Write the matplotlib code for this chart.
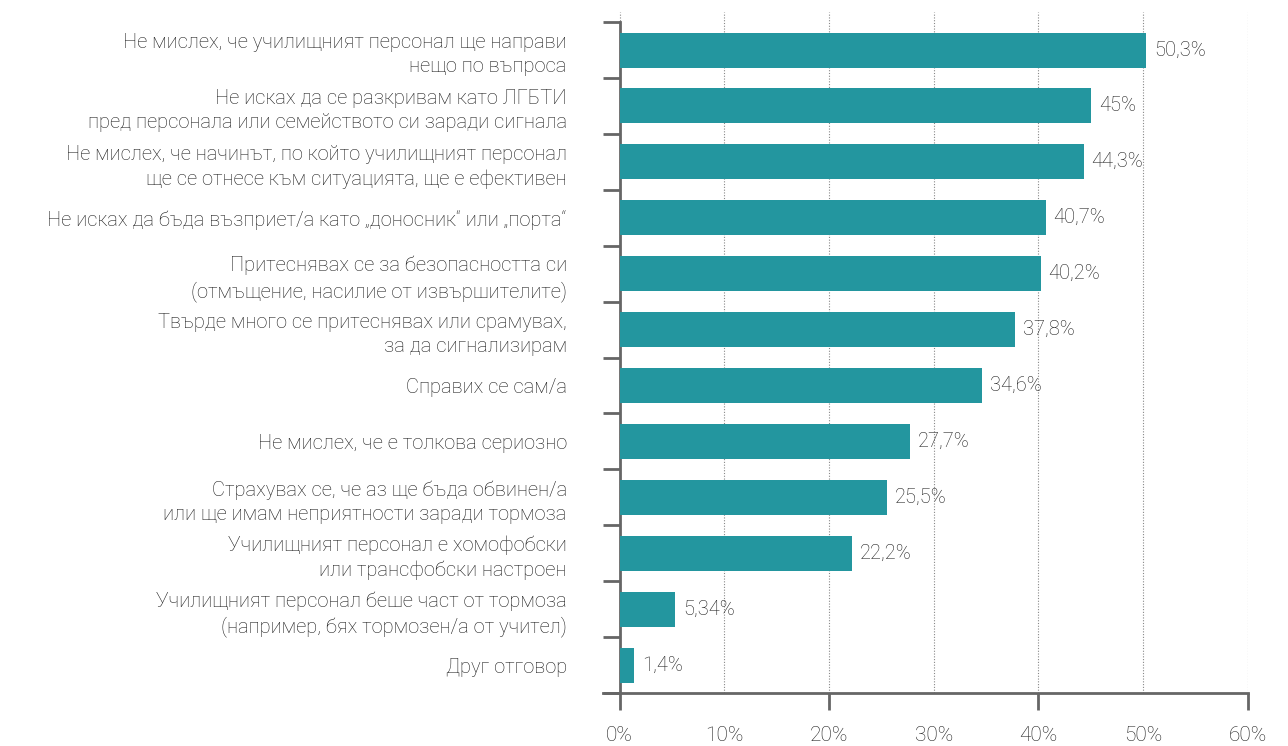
import matplotlib.pyplot as plt
from matplotlib.ticker import FixedLocator

plt.rcParams['font.family'] = ['Roboto', 'DejaVu Sans']
plt.rcParams['font.weight'] = 'light'

причини = [
    "Не мислех, че училищният персонал ще направи\nнещо по въпроса",
    "Не исках да се разкривам като ЛГБТИ\nпред персонала или семейството си заради сигнала",
    "Не мислех, че начинът, по който училищният персонал\nще се отнесе към ситуацията, ще е ефективен",
    "Не исках да бъда възприет/а като „доносник“ или „порта“",
    "Притеснявах се за безопасността си\n(отмъщение, насилие от извършителите)",
    "Твърде много се притеснявах или срамувах,\nза да сигнализирам",
    "Справих се сам/а",
    "Не мислех, че е толкова сериозно",
    "Страхувах се, че аз ще бъда обвинен/а\nили ще имам неприятности заради тормоза",
    "Училищният персонал е хомофобски\nили трансфобски настроен",
    "Училищният персонал беше част от тормоза\n(например, бях тормозен/а от учител)",
    "Друг отговор",
]
проценти = [50.3, 45, 44.3, 40.7, 40.2, 37.8, 34.6, 27.7, 25.5, 22.2, 5.34, 1.4]
x_ticks = [0, 10, 20, 30, 40, 50, 60]
x_tick_labels = ['0%', '10%', '20%', '30%', '40%', '50%', '60%']

цвят = '#23969f'
сиво = '#666666'
текст = '#1e1e1e'

fig = plt.figure(figsize=(12.88, 7.46), dpi=100)
ax = fig.add_axes([0.4682, 0.0710, 0.9689 - 0.4682, 0.9839 - 0.0710])

y = list(range(len(причини)))
ax.barh(y, проценти, height=0.625, color=цвят, zorder=3)
for yi, v in zip(y, проценти):
    ax.text(v + 0.75, yi, '{:g}%'.format(v).replace('.', ','), va='center', ha='left',
            fontsize=14.5, color=текст, zorder=4)

ax.set_xlim(-1.575, 60)
ax.set_ylim(11.5, -0.68)

for s in ['top', 'right']:
    ax.spines[s].set_visible(False)
ax.spines['left'].set_position(('data', 0))
ax.spines['left'].set_bounds(-0.5, 11.5)
for s in ['left', 'bottom']:
    ax.spines[s].set_color(сиво)
    ax.spines[s].set_linewidth(2)

ax.set_yticks(y)
ax.set_yticklabels(причини, fontsize=14.5, color=текст, ha='right', linespacing=1.35)
ax.yaxis.set_minor_locator(FixedLocator([i - 0.5 for i in range(len(причини) + 1)]))
ax.tick_params(axis='y', which='major', length=0, pad=38)
ax.tick_params(axis='y', which='minor', length=12, width=2, color=сиво)

ax.xaxis.remove_overlapping_locs = False
ax.set_xticks(x_ticks)
ax.set_xticklabels(x_tick_labels, fontsize=15, color=текст)
ax.xaxis.set_minor_locator(FixedLocator([0, 20, 40, 60]))
ax.tick_params(axis='x', which='major', length=0, pad=24)
ax.tick_params(axis='x', which='minor', length=12, width=2, color=сиво)

ax.grid(axis='x', which='major', color='#888888', linestyle=(0, (1, 1.5)), linewidth=0.8, zorder=0)

fig.savefig('out.png', dpi=100)
